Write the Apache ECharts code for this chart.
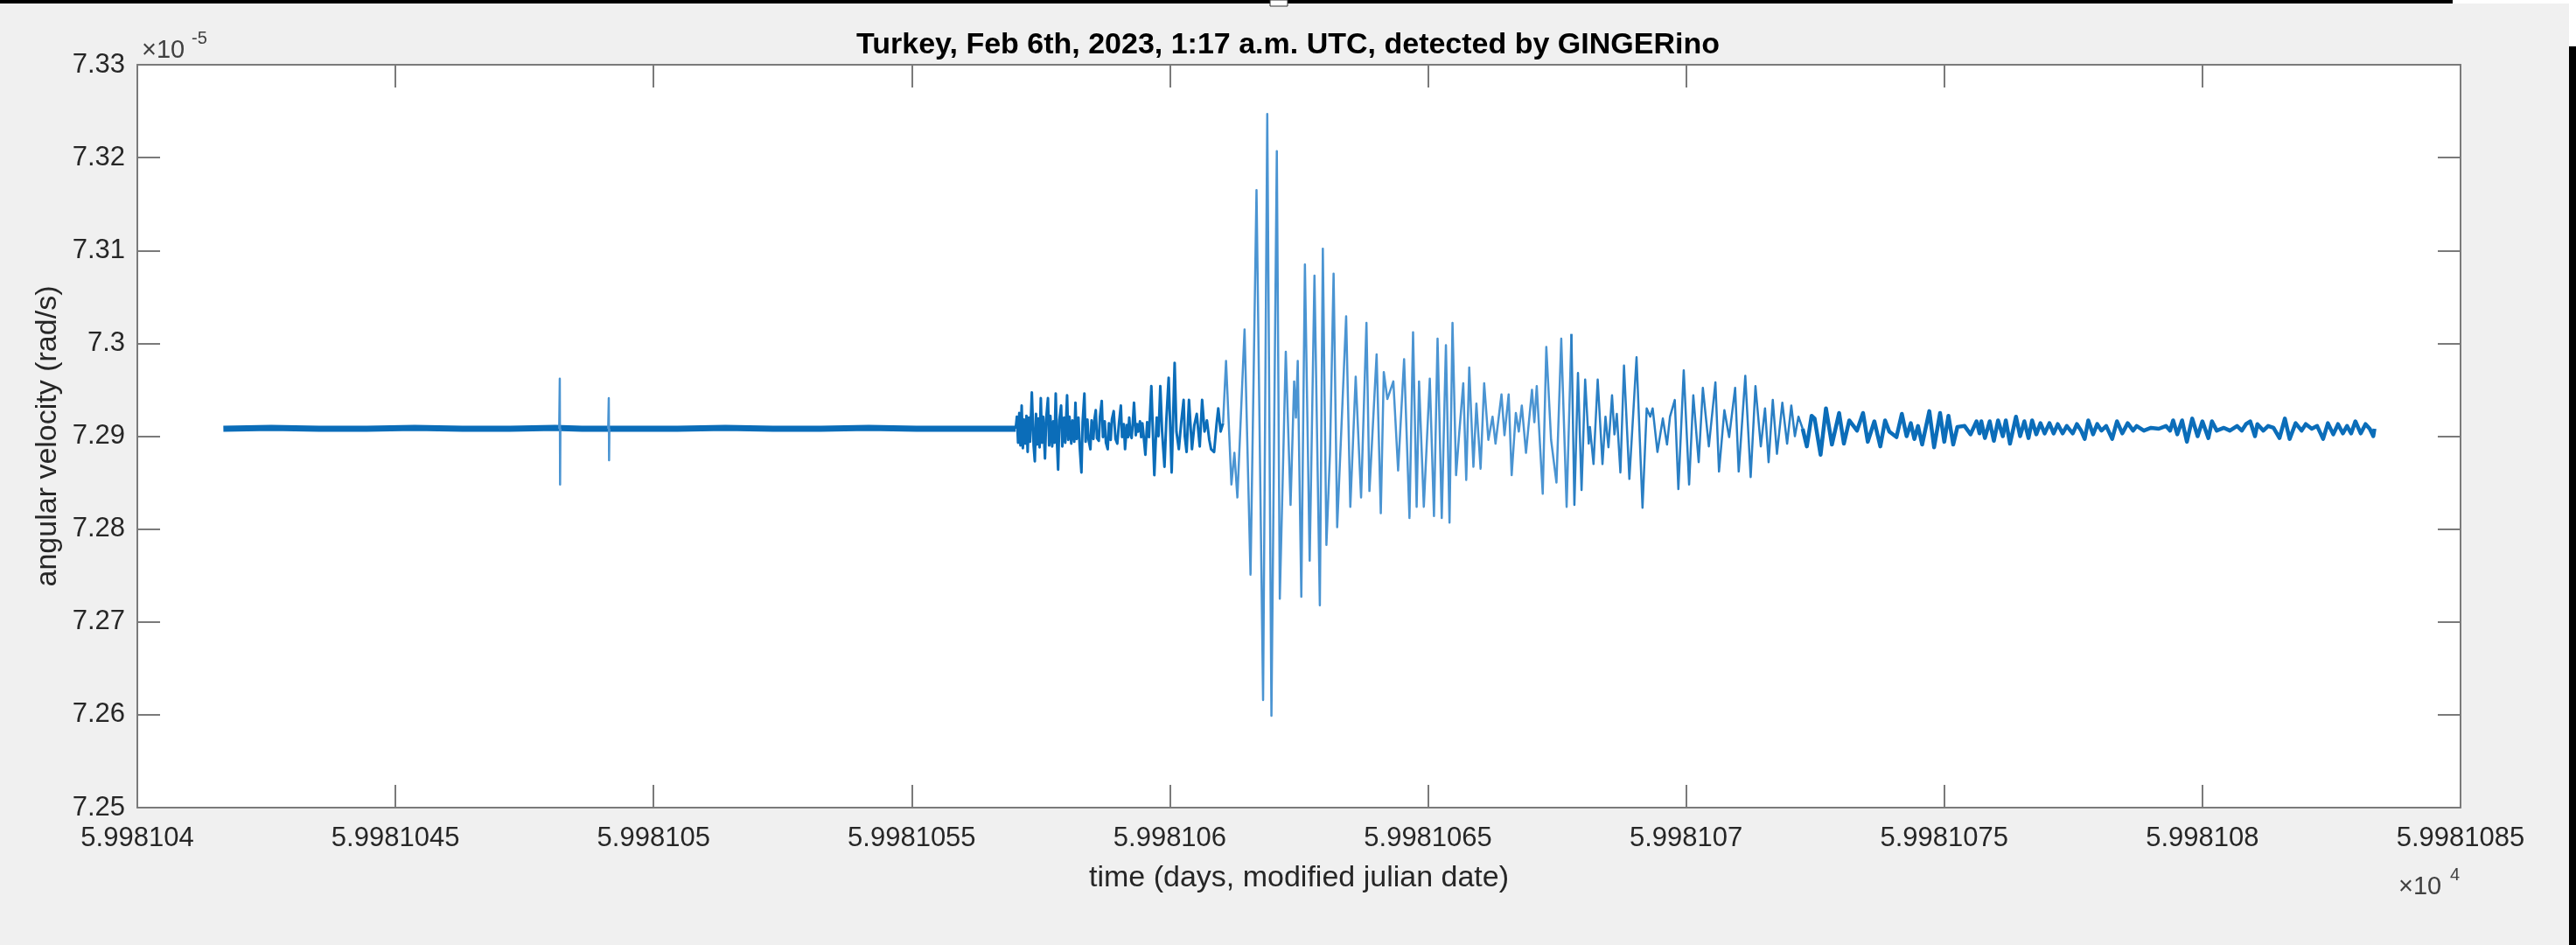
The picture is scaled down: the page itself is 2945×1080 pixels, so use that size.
<!DOCTYPE html>
<html>
<head>
<meta charset="utf-8">
<title>GINGERino – Turkey earthquake, 6 Feb 2023</title>
<script src="https://cdn.jsdelivr.net/npm/echarts/dist/echarts.min.js"></script>
<style>
  html, body { margin: 0; padding: 0; background: #f0f0f0; }
  #chart { width: 2945px; height: 1080px; }
</style>
</head>
<body>
<div id="chart"></div>
<script>
// GINGERino angular velocity record, 01:00–02:00 UTC, 6 Feb 2023.
// Each entry: [seconds after 01:00:00 UTC, angular velocity in 1e-5 rad/s].

// Quiet stretch before the first arrivals (dense noise floor, drawn as a band)
const QUIET = [
  [0, 7.2908], [80, 7.2909], [160, 7.2908], [240, 7.2908], [320, 7.2909],
  [400, 7.2908], [480, 7.2908], [555, 7.2909], [600, 7.2908], [700, 7.2908],
  [760, 7.2908], [840, 7.2909], [920, 7.2908], [1000, 7.2908], [1080, 7.2909],
  [1160, 7.2908], [1240, 7.2908], [1326, 7.2908]
];

// Two short glitches in the quiet stretch
const GLITCH_ONE = [[562, 7.2908], [563, 7.2962], [563.5, 7.2848], [564, 7.2908]];
const GLITCH_TWO = [[644, 7.2908], [645, 7.2941], [645.5, 7.2874], [646, 7.2908]];

// Body-wave arrivals: high-frequency noise burst
const BODY_WAVES = [
  [1326, 7.2908], [1328, 7.2921], [1330, 7.2893], [1332, 7.2925], [1334, 7.2890],
  [1336, 7.2933], [1338, 7.2887], [1340, 7.2918], [1342, 7.2892], [1344, 7.2922],
  [1346, 7.2883], [1348, 7.2920], [1350, 7.2894], [1353, 7.2947], [1356, 7.2890],
  [1358, 7.2873], [1360, 7.2924], [1362, 7.2891], [1364, 7.2919], [1366, 7.2888],
  [1368, 7.2941], [1370, 7.2893], [1372, 7.2921], [1375, 7.2876], [1377, 7.2918],
  [1380, 7.2941], [1382, 7.2890], [1384, 7.2922], [1387, 7.2889], [1389, 7.2916],
  [1391, 7.2893], [1393, 7.2946], [1395, 7.2895], [1397, 7.2864], [1399, 7.2917],
  [1402, 7.2933], [1404, 7.2889], [1407, 7.2920], [1409, 7.2893], [1412, 7.2944],
  [1414, 7.2896], [1416, 7.2921], [1419, 7.2892], [1421, 7.2917], [1424, 7.2894],
  [1426, 7.2936], [1428, 7.2897], [1431, 7.2920], [1433, 7.2890], [1436, 7.2861],
  [1438, 7.2915], [1441, 7.2946], [1443, 7.2894], [1446, 7.2918], [1448, 7.2896],
  [1451, 7.2886], [1453, 7.2917], [1456, 7.2897], [1458, 7.2919], [1460, 7.2928],
  [1462, 7.2898], [1465, 7.2895], [1467, 7.2921], [1470, 7.2938], [1472, 7.2899],
  [1475, 7.2916], [1477, 7.2893], [1480, 7.2886], [1482, 7.2914], [1485, 7.2896],
  [1487, 7.2918], [1490, 7.2927], [1493, 7.2897], [1496, 7.2892], [1499, 7.2915],
  [1502, 7.2933], [1504, 7.2899], [1507, 7.2913], [1509, 7.2886], [1512, 7.2912],
  [1514, 7.2899], [1516, 7.2920], [1518, 7.2902], [1520, 7.2898], [1522, 7.2914],
  [1524, 7.2936], [1527, 7.2901], [1529, 7.2913], [1531, 7.2905], [1534, 7.2916],
  [1536, 7.2899], [1538, 7.2914], [1540, 7.2901], [1543, 7.2880], [1546, 7.2915],
  [1549, 7.2899], [1553, 7.2954], [1558, 7.2858], [1562, 7.2920], [1565, 7.2900],
  [1568, 7.2954], [1571, 7.2905], [1575, 7.2867], [1578, 7.2916], [1582, 7.2963],
  [1587, 7.2861], [1592, 7.2979], [1595, 7.2905], [1599, 7.2886], [1603, 7.2915],
  [1607, 7.2939], [1609, 7.2900], [1612, 7.2883], [1616, 7.2939], [1621, 7.2886],
  [1625, 7.2912], [1629, 7.2924], [1634, 7.2889], [1638, 7.2939], [1642, 7.2905],
  [1646, 7.2917], [1650, 7.2896], [1653, 7.2886], [1658, 7.2883], [1662, 7.2912],
  [1665, 7.2930], [1669, 7.2905], [1673, 7.2914]
];

// Surface waves: the large oscillations
const SURFACE_WAVES = [
  [1678, 7.2981], [1687, 7.2848], [1692, 7.2882], [1697, 7.2834], [1709, 7.3015],
  [1719, 7.2751], [1729, 7.3165], [1740, 7.2616], [1747, 7.3247], [1754, 7.2599],
  [1763, 7.3207], [1768, 7.2725], [1778, 7.2991], [1786, 7.2826], [1792, 7.2959],
  [1795, 7.2920], [1798, 7.2981], [1804, 7.2727], [1810, 7.3085], [1818, 7.2766],
  [1826, 7.3073], [1835, 7.2718], [1840, 7.3102], [1846, 7.2783], [1852, 7.2882],
  [1858, 7.3075], [1864, 7.2802], [1873, 7.2938], [1879, 7.3029], [1886, 7.2824],
  [1895, 7.2964], [1904, 7.2834], [1913, 7.3022], [1918, 7.2841], [1930, 7.2988],
  [1937, 7.2817], [1942, 7.2969], [1948, 7.2940], [1958, 7.2959], [1966, 7.2863],
  [1976, 7.2983], [1985, 7.2812], [1991, 7.3012], [1997, 7.2824], [2001, 7.2959],
  [2009, 7.2824], [2019, 7.2962], [2026, 7.2814], [2032, 7.3005], [2039, 7.2812],
  [2046, 7.2998], [2052, 7.2807], [2057, 7.3022], [2063, 7.2858], [2068, 7.2901],
  [2075, 7.2957], [2080, 7.2853], [2085, 7.2974], [2092, 7.2867], [2097, 7.2935],
  [2104, 7.2865], [2110, 7.2957], [2117, 7.2896], [2124, 7.2921], [2129, 7.2892],
  [2139, 7.2945], [2144, 7.2901], [2151, 7.2945], [2156, 7.2858], [2163, 7.2925],
  [2168, 7.2905], [2173, 7.2933], [2180, 7.2882], [2190, 7.2950], [2194, 7.2915],
  [2198, 7.2954], [2208, 7.2838], [2214, 7.2996], [2222, 7.2896], [2231, 7.2850],
  [2239, 7.3005], [2248, 7.2824], [2256, 7.3010]
];

// Coda: decaying oscillations
const CODA = [
  [2261, 7.2826], [2267, 7.2968], [2273, 7.2842], [2279, 7.2961], [2285, 7.2892],
  [2287, 7.2910], [2293, 7.2870], [2300, 7.2961], [2308, 7.2870], [2313, 7.2921],
  [2318, 7.2888], [2324, 7.2944], [2328, 7.2902], [2332, 7.2924], [2338, 7.2861],
  [2344, 7.2976], [2353, 7.2854], [2365, 7.2985], [2375, 7.2823], [2382, 7.2930],
  [2388, 7.2921], [2392, 7.2930], [2400, 7.2883], [2409, 7.2919], [2416, 7.2891],
  [2421, 7.2921], [2429, 7.2939], [2435, 7.2843], [2444, 7.2971], [2453, 7.2848],
  [2460, 7.2944], [2469, 7.2872], [2476, 7.2952], [2486, 7.2889], [2497, 7.2958],
  [2503, 7.2862], [2512, 7.2928], [2520, 7.2899], [2530, 7.2952], [2536, 7.2862],
  [2547, 7.2965], [2556, 7.2856], [2564, 7.2954], [2573, 7.2889], [2580, 7.2930],
  [2586, 7.2872], [2593, 7.2939], [2600, 7.2881], [2609, 7.2936], [2617, 7.2892],
  [2624, 7.2933], [2630, 7.2900], [2636, 7.2921], [2643, 7.2908]
];

// Tail: low-amplitude ringing until 02:00 UTC
const TAIL = [
  [2650, 7.2889], [2658, 7.2922], [2663, 7.2919], [2673, 7.2880], [2682, 7.2930],
  [2692, 7.2891], [2704, 7.2925], [2712, 7.2892], [2721, 7.2917], [2734, 7.2906],
  [2744, 7.2925], [2752, 7.2894], [2763, 7.2916], [2773, 7.2889], [2781, 7.2917],
  [2788, 7.2905], [2800, 7.2899], [2809, 7.2924], [2817, 7.2900], [2824, 7.2914],
  [2830, 7.2897], [2836, 7.2911], [2843, 7.2891], [2855, 7.2927], [2863, 7.2888],
  [2873, 7.2925], [2880, 7.2894], [2887, 7.2922], [2895, 7.2891], [2902, 7.2910],
  [2914, 7.2911], [2924, 7.2902], [2934, 7.2916],
  [2939, 7.2903], [2942, 7.2916], [2948, 7.2898], [2956, 7.2916], [2963, 7.2895],
  [2970, 7.2917], [2978, 7.2900], [2983, 7.2917], [2990, 7.2892], [3000, 7.2921],
  [3007, 7.2900], [3014, 7.2916], [3021, 7.2898], [3027, 7.2917], [3034, 7.2902],
  [3041, 7.2914], [3048, 7.2903], [3056, 7.2914], [3063, 7.2903], [3070, 7.2913],
  [3078, 7.2903], [3085, 7.2911], [3095, 7.2903], [3102, 7.2913], [3109, 7.2906],
  [3115, 7.2897], [3121, 7.2917], [3129, 7.2902], [3136, 7.2913], [3143, 7.2906],
  [3151, 7.2911], [3161, 7.2897], [3169, 7.2916], [3178, 7.2903], [3187, 7.2914],
  [3196, 7.2906], [3202, 7.2911], [3214, 7.2906], [3226, 7.2909], [3239, 7.2908],
  [3251, 7.2911], [3258, 7.2906], [3263, 7.2917], [3270, 7.2902], [3278, 7.2917],
  [3286, 7.2894], [3295, 7.2919], [3304, 7.2900], [3312, 7.2916], [3322, 7.2898],
  [3328, 7.2916], [3336, 7.2906], [3348, 7.2909], [3358, 7.2906], [3370, 7.2911],
  [3378, 7.2906], [3385, 7.2913], [3392, 7.2916], [3400, 7.2900], [3404, 7.2913],
  [3414, 7.2906], [3422, 7.2911], [3431, 7.2909], [3441, 7.2898], [3450, 7.2919],
  [3458, 7.2897], [3468, 7.2914], [3478, 7.2906], [3485, 7.2913], [3495, 7.2908],
  [3504, 7.2911], [3514, 7.2897], [3522, 7.2914], [3531, 7.2902], [3539, 7.2913],
  [3547, 7.2903], [3554, 7.2911], [3561, 7.2903], [3568, 7.2916], [3577, 7.2903],
  [3585, 7.2913], [3592, 7.2908], [3598, 7.2900], [3600, 7.2908]
];

// Axis ranges (x in MJD days, y in 1e-5 rad/s)
const X_MIN = 59981.04, X_MAX = 59981.085, X_STEP = 0.005;
const Y_MIN = 7.25, Y_MAX = 7.33, Y_STEP = 0.01;

// seconds after 01:00 UTC -> modified julian date
const toMjd = ([s, v]) => [59981 + (3600 + s) / 86400, v];

const FONT = '"Liberation Sans", Arial, Helvetica, sans-serif';
const TEXT = '#262626';
const FRAME = '#7a7a7a';
const LIGHT = '#4a94d2';
const MID = '#2a7fc4';
const DARK = '#0b6db9';

const chart = echarts.init(document.getElementById('chart'), null, { renderer: 'canvas' });

const frameAxis = {
  axisLine: { show: true, onZero: false, lineStyle: { color: FRAME, width: 2 } },
  axisTick: { show: true, inside: true, length: 26, lineStyle: { color: FRAME, width: 2 } },
  splitLine: { show: false }
};

// one stretch of the record; `lead` is the last sample of the previous stretch so the trace stays joined
const lineSeries = (data, width, color, lead) => ({
  type: 'line',
  data: (lead ? [lead] : []).concat(data).map(toMjd),
  showSymbol: false,
  symbol: 'none',
  silent: true,
  clip: true,
  lineStyle: { width: width, color: color, join: 'round' }
});

chart.setOption({
  animation: false,
  backgroundColor: '#f0f0f0',
  title: {
    text: 'Turkey, Feb 6th, 2023, 1:17 a.m. UTC, detected by GINGERino',
    left: 'center',
    top: 30,
    textStyle: { fontFamily: FONT, fontSize: 34, fontWeight: 'bold', color: '#000' }
  },
  grid: {
    left: 157, right: 132, top: 74, bottom: 157,
    show: true, backgroundColor: '#ffffff', borderWidth: 0
  },
  xAxis: [
    Object.assign({
      type: 'value', position: 'bottom',
      min: X_MIN, max: X_MAX, interval: X_STEP,
      name: 'time (days, modified julian date)',
      nameLocation: 'middle', nameGap: 64,
      nameTextStyle: { fontFamily: FONT, fontSize: 34, color: TEXT },
      axisLabel: {
        fontFamily: FONT, fontSize: 31, color: TEXT, margin: 20,
        formatter: v => String(Math.round(v * 1000) / 1e7)
      }
    }, frameAxis),
    Object.assign({
      type: 'value', position: 'top',
      min: X_MIN, max: X_MAX, interval: X_STEP,
      axisLabel: { show: false }
    }, frameAxis)
  ],
  yAxis: [
    Object.assign({
      type: 'value', position: 'left',
      min: Y_MIN, max: Y_MAX, interval: Y_STEP,
      name: 'angular velocity (rad/s)',
      nameLocation: 'middle', nameGap: 82,
      nameTextStyle: { fontFamily: FONT, fontSize: 34, color: TEXT },
      axisLabel: {
        fontFamily: FONT, fontSize: 31, color: TEXT, margin: 14,
        formatter: v => String(Math.round(v * 100) / 100)
      }
    }, frameAxis),
    Object.assign({
      type: 'value', position: 'right',
      min: Y_MIN, max: Y_MAX, interval: Y_STEP,
      axisLabel: { show: false }
    }, frameAxis)
  ],
  series: [
    lineSeries(QUIET, 7, DARK),
    lineSeries(GLITCH_ONE, 2.5, LIGHT),
    lineSeries(GLITCH_TWO, 2.5, LIGHT),
    lineSeries(BODY_WAVES, 3, DARK),
    lineSeries(SURFACE_WAVES, 2.5, LIGHT, BODY_WAVES[BODY_WAVES.length - 1]),
    lineSeries(CODA, 2.5, MID, SURFACE_WAVES[SURFACE_WAVES.length - 1]),
    lineSeries(TAIL, 4.5, DARK, CODA[CODA.length - 1])
  ],
  graphic: [
    // exponent of the y axis
    { type: 'text', x: 162, y: 58, silent: true,
      style: { text: '×10', font: '29px ' + FONT, fill: '#404040', textVerticalAlign: 'middle' } },
    { type: 'text', x: 219, y: 44, silent: true,
      style: { text: '-5', font: '20px ' + FONT, fill: '#404040', textVerticalAlign: 'middle' } },
    // exponent of the x axis
    { type: 'text', x: 2742, y: 1014, silent: true,
      style: { text: '×10', font: '29px ' + FONT, fill: '#404040', textVerticalAlign: 'middle' } },
    { type: 'text', x: 2801, y: 1000, silent: true,
      style: { text: '4', font: '20px ' + FONT, fill: '#404040', textVerticalAlign: 'middle' } },
    // window edges around the figure
    { type: 'rect', silent: true, shape: { x: 0, y: 0, width: 2804, height: 4 }, style: { fill: '#000' } },
    { type: 'rect', silent: true, shape: { x: 2804, y: 0, width: 141, height: 4 }, style: { fill: '#ffffff' } },
    { type: 'rect', silent: true, shape: { x: 2937, y: 4, width: 8, height: 49 }, style: { fill: '#ffffff' } },
    { type: 'rect', silent: true, shape: { x: 2937, y: 53, width: 8, height: 1027 }, style: { fill: '#000' } },
    { type: 'rect', silent: true, shape: { x: 1452, y: 0, width: 20, height: 7 }, style: { fill: '#ffffff', stroke: '#333', lineWidth: 1 } }
  ]
});
</script>
</body>
</html>
